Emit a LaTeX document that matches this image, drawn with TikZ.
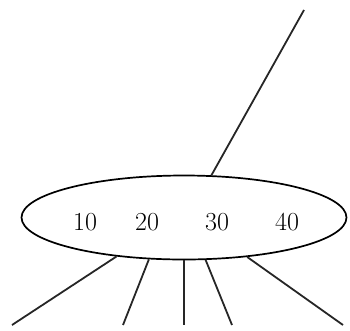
\documentclass[tikz,border=0pt]{standalone}
\usepackage{tikz}
\usetikzlibrary{shapes.geometric}

\begin{document}
\begin{tikzpicture}[
  x=1pt, y=-1pt,
  keynode/.style={draw, ellipse, line width=1.7pt, minimum width=325pt, minimum height=84pt, inner sep=0pt},
  keytext/.style={font=\fontsize{26}{30}\selectfont, inner sep=0pt},
  edge/.style={line width=1.8pt, black!85}
]
\useasboundingbox (0,0) rectangle (350,330);

% B-tree node with four keys
\node[keynode] (bnode) at (184,217.5) {};
\node[keytext] (k10) at (85,222) {10};
\node[keytext] (k20) at (147,222) {20};
\node[keytext] (k30) at (217,222) {30};
\node[keytext] (k40) at (287,222) {40};

% Parent and children ends
\coordinate (parent) at (304,10);
\coordinate (c1) at (12,325);
\coordinate (c2) at (123,325);
\coordinate (c3) at (184,325);
\coordinate (c4) at (232,325);
\coordinate (c5) at (343,325);

% Pointers
\draw[edge] (bnode.57.2) -- (parent);
\draw[edge] (bnode.210.5) -- (c1);
\draw[edge] (bnode.230.7) -- (c2);
\draw[edge] (bnode.270) -- (c3);
\draw[edge] (bnode.297.6) -- (c4);
\draw[edge] (bnode.328.6) -- (c5);

\end{tikzpicture}
\end{document}
